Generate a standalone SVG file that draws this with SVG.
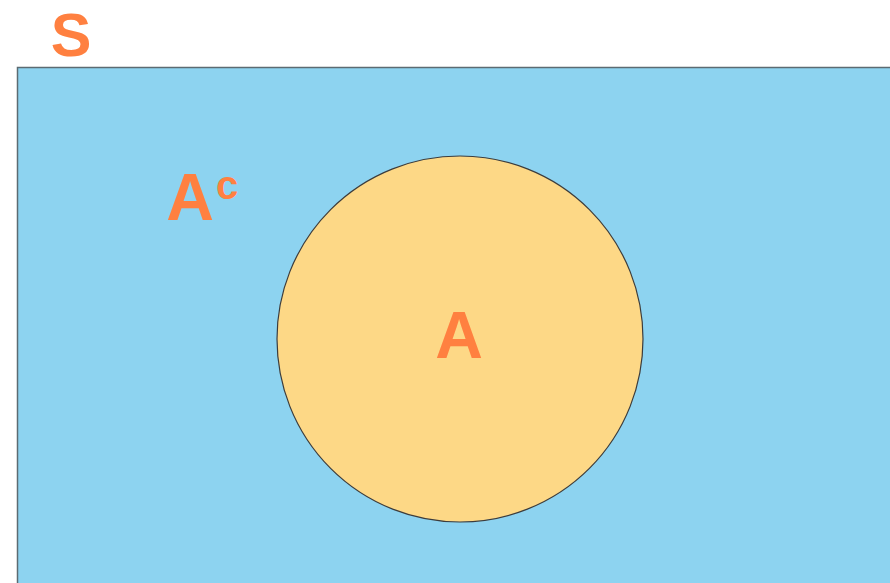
<svg xmlns="http://www.w3.org/2000/svg" width="890" height="583" viewBox="0 0 890 583">
<style>
.lbl{font-family:"Liberation Sans",Arial,sans-serif;font-weight:bold;fill:#FF8040;}
</style>
<rect width="890" height="583" fill="#ffffff"/>
<g id="universe">
<rect x="17.5" y="67.5" width="900" height="600" fill="#8DD3F0" stroke="#5C6B72" stroke-width="1.5"/>
<text class="lbl" x="71" y="56" font-size="61" text-anchor="middle">S</text>
<text class="lbl" x="190" y="220" font-size="66" text-anchor="middle">A</text>
<text class="lbl" x="227" y="199" font-size="40" text-anchor="middle">c</text>
</g>
<g id="setA">
<circle cx="460" cy="339" r="183" fill="#FDD886" stroke="#3C3C3C" stroke-width="1.2"/>
<text class="lbl" x="459" y="358" font-size="66" text-anchor="middle">A</text>
</g>
</svg>
